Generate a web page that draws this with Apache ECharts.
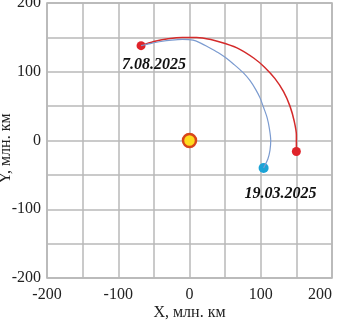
<!DOCTYPE html>
<html>
<head>
<meta charset="utf-8">
<script src="https://cdn.jsdelivr.net/npm/echarts@6/dist/echarts.min.js"></script>
<style>
  html, body { margin: 0; padding: 0; background: #fff; }
  #chart { width: 337px; height: 321px; }
</style>
</head>
<body>
<div id="chart"></div>
<script>
// orbit of the red body (млн. км)
const redX = [-68, -50, -30, -10, 10, 30, 50, 70, 90, 105, 120, 132, 141, 147, 150, 150];
const redY = [138, 144, 148, 150, 150, 147, 141, 133, 120, 107, 90, 71, 50, 28, 8, -16];
// trajectory of the blue body
const blueX = [-68, -55, -40, -25, -10, 5, 15, 28, 40, 50, 62, 75, 85, 93, 99, 104, 109, 112, 114, 113, 110, 104];
const blueY = [138, 141, 144, 146, 147, 146, 142, 135, 128, 121, 111, 99, 87, 74, 62, 48, 33, 18, 0, -14, -27, -40];
const dateStart = '7.08.2025';
const dateEnd = '19.03.2025';
const axisTicks = [-200, -100, 0, 100, 200];

const chart = echarts.init(document.getElementById('chart'));
const serif = '"Liberation Serif", "DejaVu Serif", serif';
const pairs = (xs, ys) => xs.map((x, i) => [x, ys[i]]);
const last = a => a[a.length - 1];

const axisCommon = {
  type: 'value',
  min: axisTicks[0],
  max: last(axisTicks),
  interval: axisTicks[1] - axisTicks[0],
  axisLine: { show: false },
  axisTick: { show: false },
  splitLine: { show: true, lineStyle: { color: '#b9b9b9', width: 1.5 } },
  minorTick: { show: false, splitNumber: 2 },
  minorSplitLine: { show: true, lineStyle: { color: '#b9b9b9', width: 1.5 } },
  axisLabel: { fontFamily: serif, fontSize: 16, color: '#222' },
  nameLocation: 'middle',
  nameMoveOverlap: false,
  nameTextStyle: { fontFamily: serif, fontSize: 16, color: '#222' }
};

chart.setOption({
  animation: false,
  grid: {
    left: 47, right: 5, top: 3, bottom: 43,
    outerBoundsMode: 'none',
    containLabel: false,
    show: true, borderColor: '#b0b0b0', borderWidth: 1.5
  },
  xAxis: Object.assign({}, axisCommon, {
    name: 'X, млн. км',
    nameGap: 27,
    axisLabel: Object.assign({}, axisCommon.axisLabel, { margin: 9, alignMaxLabel: 'right' })
  }),
  yAxis: Object.assign({}, axisCommon, {
    name: 'Y, млн. км',
    nameGap: 33,
    nameTextStyle: Object.assign({}, axisCommon.nameTextStyle, { padding: [0, 16, 0, 0] }),
    axisLabel: Object.assign({}, axisCommon.axisLabel, { margin: 6 })
  }),
  series: [
    {
      type: 'line',
      data: pairs(redX, redY),
      smooth: 0.3,
      showSymbol: false,
      lineStyle: { color: '#d42a2a', width: 1.5 }
    },
    {
      type: 'line',
      data: pairs(blueX, blueY),
      smooth: 0.3,
      showSymbol: false,
      lineStyle: { color: '#7b9bd0', width: 1.2 }
    },
    {
      // the Sun
      type: 'scatter',
      data: [[0, 0]],
      symbolSize: 13,
      itemStyle: { color: '#ffdc1e', borderColor: '#d8461a', borderWidth: 2.5, opacity: 1 }
    },
    {
      type: 'scatter',
      symbolSize: 9,
      itemStyle: { color: '#e0232a', opacity: 1 },
      data: [
        {
          value: [redX[0], redY[0]],
          label: {
            show: true, position: 'bottom', offset: [13, 2], formatter: dateStart,
            fontFamily: serif, fontSize: 16, fontWeight: 'bold', fontStyle: 'italic', color: '#111'
          }
        },
        [last(redX), last(redY)]
      ]
    },
    {
      type: 'scatter',
      symbolSize: 10,
      itemStyle: { color: '#1ba3d6', opacity: 1 },
      data: [
        {
          value: [last(blueX), last(blueY)],
          label: {
            show: true, position: 'bottom', offset: [17, 8], formatter: dateEnd,
            fontFamily: serif, fontSize: 16, fontWeight: 'bold', fontStyle: 'italic', color: '#111'
          }
        }
      ]
    }
  ]
});
</script>
</body>
</html>
